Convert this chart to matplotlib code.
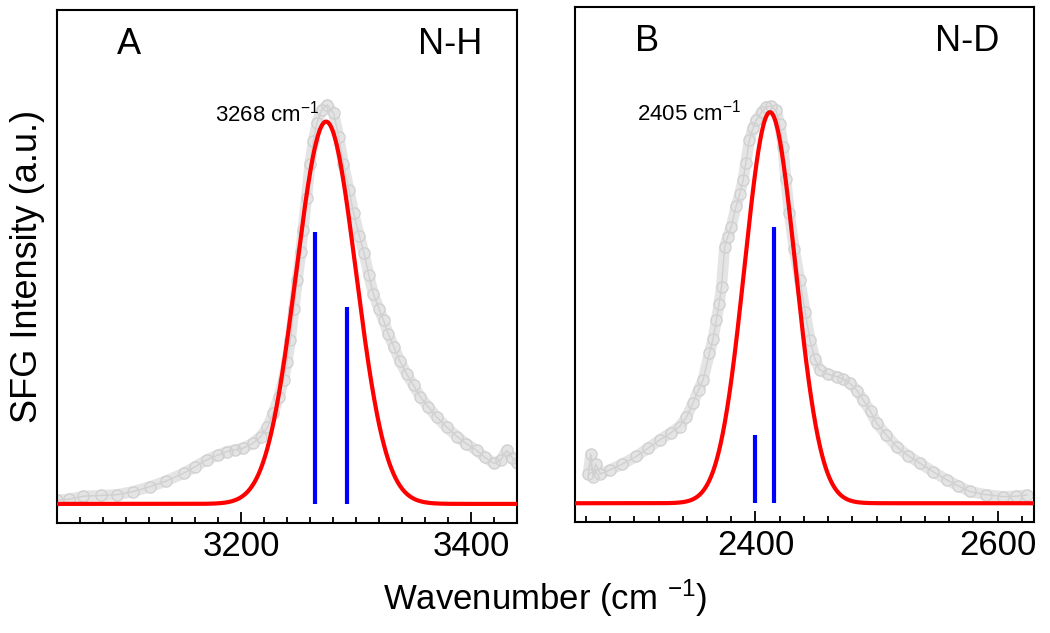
import matplotlib
matplotlib.use("Agg")
import matplotlib.pyplot as plt
import numpy as np

plt.rcParams['font.family'] = ['Liberation Sans', 'DejaVu Sans']
plt.rcParams['mathtext.fontset'] = 'custom'
plt.rcParams['mathtext.rm'] = 'Liberation Sans'
plt.rcParams['mathtext.it'] = 'Liberation Sans:italic'
plt.rcParams['mathtext.bf'] = 'Liberation Sans:bold'

# ---- Panel A (N-H) data ----
nh_x = [3040, 3050, 3063, 3078, 3092, 3106, 3121, 3135, 3150, 3160, 3170, 3180,
        3188, 3195, 3202, 3210, 3217, 3223, 3228, 3233, 3237, 3240, 3243, 3246,
        3249, 3252, 3254, 3257, 3260, 3263, 3266, 3270, 3275, 3280.5, 3285, 3289,
        3294, 3298, 3303, 3307, 3311, 3315, 3320, 3324, 3328, 3333, 3338, 3344,
        3350, 3356, 3363, 3370, 3379, 3388, 3396, 3405, 3412, 3420, 3426, 3431,
        3436, 3440]
nh_y = [0.010, 0.012, 0.020, 0.022, 0.024, 0.032, 0.045, 0.060, 0.080, 0.097, 0.115, 0.128,
        0.137, 0.141, 0.146, 0.158, 0.176, 0.200, 0.237, 0.280, 0.324, 0.370, 0.430, 0.510,
        0.586, 0.660, 0.717, 0.800, 0.890, 0.950, 0.996, 1.030, 1.044, 1.022, 0.960, 0.890,
        0.820, 0.760, 0.700, 0.656, 0.600, 0.550, 0.510, 0.480, 0.445, 0.410, 0.375, 0.340,
        0.310, 0.280, 0.253, 0.228, 0.200, 0.176, 0.157, 0.140, 0.122, 0.106, 0.115, 0.140,
        0.120, 0.106]
nh_fit = {'center': 3274.0, 'sigma': 26.0, 'amp': 1.0}
nh_stick_pos = [3264.6, 3291.8]
nh_stick_h = [0.71, 0.516]
nh_peak_label = "3268 cm$^{-1}$"

# ---- Panel B (N-D) data ----
nd_x = [2262, 2264, 2266, 2268, 2272, 2279.6, 2290, 2301.7, 2311, 2321, 2330, 2337.4,
        2343, 2348.4, 2353, 2356.7, 2362, 2365, 2367.8, 2370, 2372, 2374.6, 2377, 2380,
        2384, 2387, 2389.8, 2392, 2395, 2398, 2400.8, 2405, 2409, 2413, 2417, 2420,
        2422.8, 2425, 2428, 2432, 2436.6, 2441, 2445, 2449, 2453, 2460, 2467, 2472,
        2478, 2484, 2489, 2495, 2500, 2508, 2516.5, 2526, 2536, 2547, 2558, 2567,
        2577, 2590, 2604.6, 2615, 2624]
nd_y = [0.075, 0.125, 0.068, 0.100, 0.075, 0.085, 0.100, 0.120, 0.140, 0.162, 0.180, 0.196,
        0.220, 0.256, 0.290, 0.315, 0.384, 0.420, 0.469, 0.510, 0.554, 0.656, 0.680, 0.707,
        0.759, 0.790, 0.827, 0.870, 0.929, 0.960, 0.980, 1.000, 1.014, 1.015, 1.006, 0.970,
        0.912, 0.830, 0.742, 0.650, 0.571, 0.490, 0.418, 0.370, 0.341, 0.330, 0.324, 0.318,
        0.307, 0.288, 0.264, 0.235, 0.205, 0.175, 0.145, 0.122, 0.102, 0.080, 0.060, 0.045,
        0.030, 0.022, 0.017, 0.018, 0.021]
nd_fit = {'center': 2412.0, 'sigma': 21.0, 'amp': 1.0}
nd_stick_pos = [2399.5, 2415.4]
nd_stick_h = [0.174, 0.707]
nd_peak_label = "2405 cm$^{-1}$"

W, H = 1050, 633
fig = plt.figure(figsize=(W / 100, H / 100), dpi=100)
axA = fig.add_axes([57 / W, 1 - 523 / H, 460 / W, 513 / H])
axB = fig.add_axes([575 / W, 1 - 522 / H, 459 / W, 515 / H])

gray = '#d0d0d0'


def draw(ax, x, y, fit, spos, sh, xlim, ylim, majors, letter, tag, label, label_xy):
    ax.plot(x, y, '-', color='#e4e4e4', lw=8, solid_capstyle='round',
            solid_joinstyle='round', zorder=1)
    ax.plot(x, y, 'o-', color=gray, mfc='none', mec=gray, mew=1.0, ms=8, lw=1.0, zorder=2)
    xx = np.linspace(xlim[0], xlim[1], 800)
    yy = fit['amp'] * np.exp(-0.5 * ((xx - fit['center']) / fit['sigma']) ** 2)
    ax.plot(xx, yy, color='#ff0000', lw=3.0, zorder=3)
    ax.vlines(spos, 0, sh, color='#0000ff', lw=3.0, zorder=4)
    ax.set_xlim(*xlim)
    ax.set_ylim(*ylim)
    ax.set_xticks(majors)
    ax.set_xticks(np.arange(xlim[0] - xlim[0] % 20 + 20, xlim[1], 20), minor=True)
    ax.set_yticks([0])
    ax.set_yticklabels([])
    ax.tick_params(axis='x', which='major', direction='in', length=8, width=1.3,
                   labelsize=25, pad=5)
    ax.tick_params(axis='x', which='minor', direction='in', length=4.5, width=1.3)
    ax.tick_params(axis='y', which='major', direction='in', length=8, width=1.3,
                   left=True, right=True)
    for s in ax.spines.values():
        s.set_linewidth(1.5)
    ax.text(0.13, 0.915, letter, transform=ax.transAxes, fontsize=26, ha='left', va='baseline')
    ax.text(0.925, 0.915, tag, transform=ax.transAxes, fontsize=26, ha='right', va='baseline')
    ax.text(label_xy[0], label_xy[1], label, fontsize=16, ha='left', va='baseline')


draw(axA, nh_x, nh_y, nh_fit, nh_stick_pos, nh_stick_h, (3040, 3440), (-0.05, 1.292),
     [3200, 3400], 'A', 'N-H', nh_peak_label, (3177, 1.0))
draw(axB, nd_x, nd_y, nd_fit, nd_stick_pos, nd_stick_h, (2251, 2630), (-0.048, 1.269),
     [2400, 2600], 'B', 'N-D', nd_peak_label, (2302, 0.98))

fig.text(28 / W, 1 - 266 / H, 'SFG Intensity (a.u.)', rotation=90, fontsize=26,
         ha='center', va='center')
fig.text(545 / W, 1 - 598 / H, 'Wavenumber (cm $^{-1}$)', fontsize=25,
         ha='center', va='center')

fig.savefig('out.png', dpi=100)
